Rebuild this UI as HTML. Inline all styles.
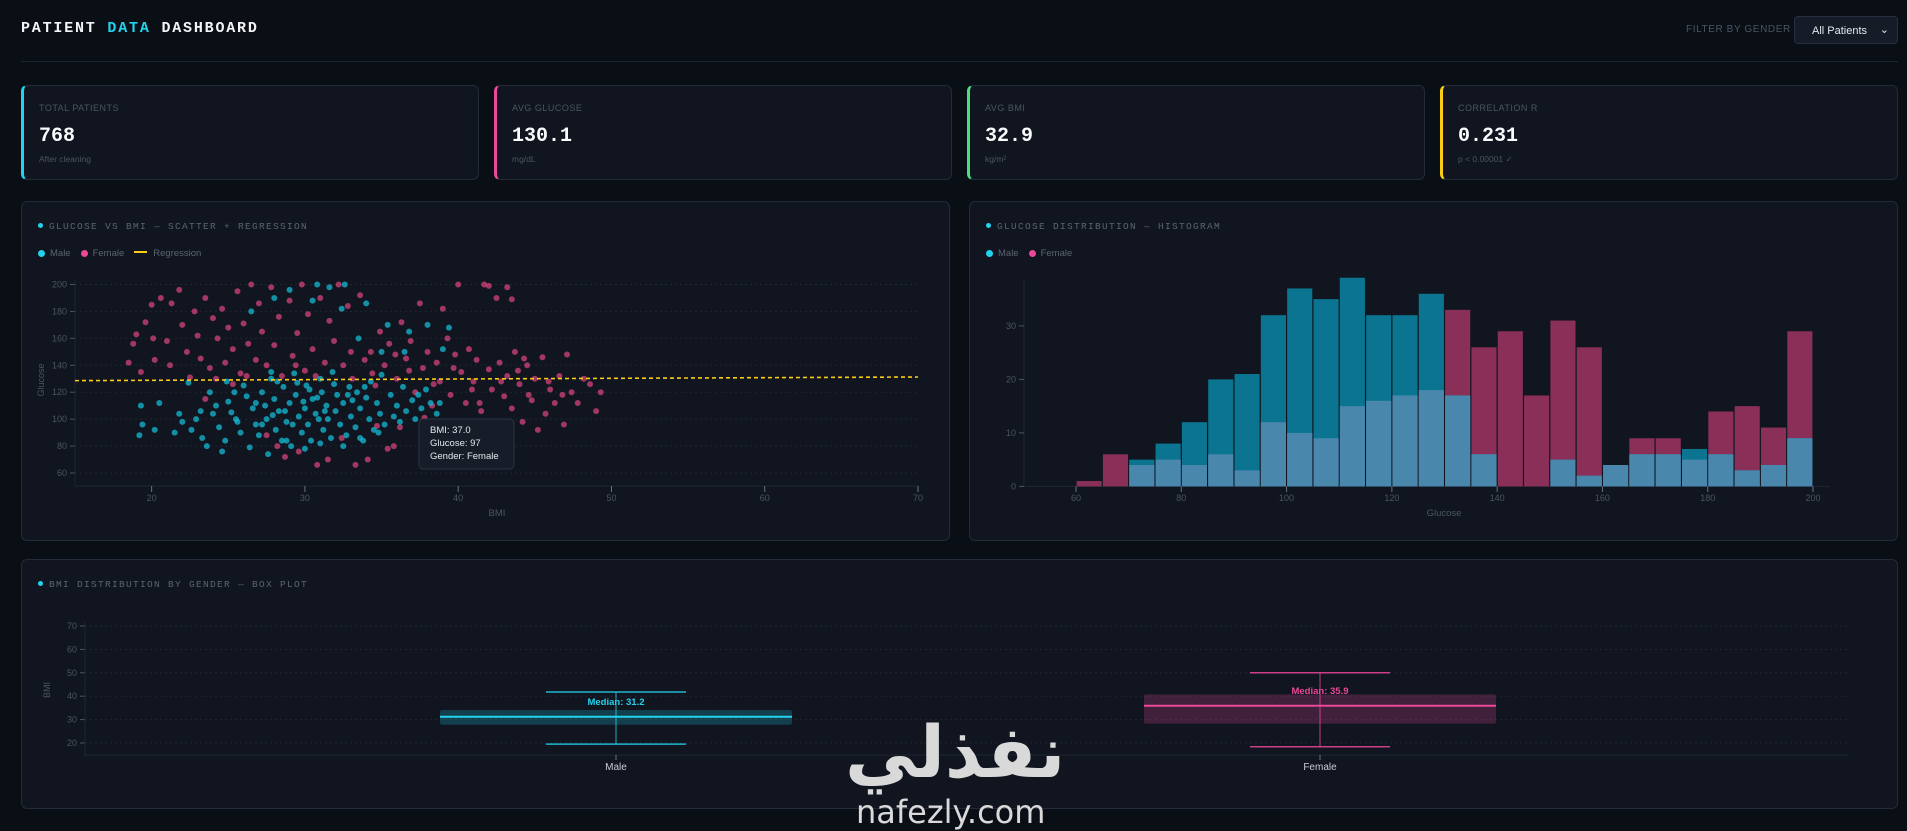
<!DOCTYPE html>
<html><head><meta charset="utf-8">
<style>
*{box-sizing:border-box;margin:0;padding:0}
body{width:1907px;height:829px;background:#0a0e15;font-family:"Liberation Sans",sans-serif;color:#e5e7eb;position:relative;overflow:hidden}
.abs{position:absolute}
.title{left:21px;top:20px;font-family:"Liberation Mono",monospace;font-weight:bold;font-size:15px;letter-spacing:1.8px;color:#f3f4f6}
.title span{color:#22d3ee}
.hline{left:21px;top:61px;width:1877px;height:1px;background:#1e2532}
.filter-label{left:1686px;top:24px;font-size:10px;letter-spacing:.6px;color:#4b5563}
.select{left:1794px;top:16px;width:104px;height:28px;background:#151c28;border:1px solid #263042;border-radius:4px;font-size:11px;color:#e5e7eb;padding:8px 0 0 17px}
.select i{position:absolute;right:8px;top:6px;font-style:normal;font-size:11px}
.card{top:85px;width:458px;height:95px;background:#10151f;border:1px solid #232b38;border-radius:6px;border-left-width:3px}
.card .lbl{position:absolute;left:15px;top:17px;font-size:9px;letter-spacing:.5px;color:#4b5563}
.card .val{position:absolute;left:15px;top:39px;font-family:"Liberation Mono",monospace;font-weight:bold;font-size:20px;color:#f9fafb}
.card .sub{position:absolute;left:15px;top:68px;font-size:8.5px;color:#4b5563}
.panel{background:#10151f;border:1px solid #232b38;border-radius:6px}
.ptitle{font-family:"Liberation Mono",monospace;font-size:9.5px;letter-spacing:1.3px;color:#5b6472}
.ptitle b{display:inline-block;width:5px;height:5px;border-radius:50%;background:#22d3ee;margin-right:6px;vertical-align:1px}
.legend{font-size:9.5px;color:#5b6472}
.legend span{margin-right:10px}
.legend b{display:inline-block;width:7px;height:7px;border-radius:50%;margin-right:5px;vertical-align:-1px}
.legend em{display:inline-block;width:13px;height:2px;background:#facc15;margin-right:6px;vertical-align:3px}
svg text{font-family:"Liberation Sans",sans-serif}
.wm{left:845px;top:716px;font-family:"DejaVu Sans",sans-serif;font-weight:bold;font-size:72px;color:#d9d9d9;line-height:1}
.wm2{left:856px;top:796px;font-family:"DejaVu Sans",sans-serif;font-size:32px;color:#d9d9d9;line-height:1}
</style></head><body>
<div class="abs title">PATIENT <span>DATA</span> DASHBOARD</div>
<div class="abs filter-label">FILTER BY GENDER</div>
<div class="abs select">All Patients<i>&#8964;</i></div>
<div class="abs hline"></div>

<div class="abs card" style="left:21px;border-left-color:#22d3ee"><div class="lbl">TOTAL PATIENTS</div><div class="val">768</div><div class="sub">After cleaning</div></div>
<div class="abs card" style="left:494px;border-left-color:#ec4899"><div class="lbl">AVG GLUCOSE</div><div class="val">130.1</div><div class="sub">mg/dL</div></div>
<div class="abs card" style="left:967px;border-left-color:#4ade80"><div class="lbl">AVG BMI</div><div class="val">32.9</div><div class="sub">kg/m²</div></div>
<div class="abs card" style="left:1440px;border-left-color:#facc15"><div class="lbl">CORRELATION R</div><div class="val">0.231</div><div class="sub">p &lt; 0.00001 ✓</div></div>

<div class="abs panel" style="left:21px;top:201px;width:929px;height:340px"></div>
<div class="abs panel" style="left:969px;top:201px;width:929px;height:340px"></div>
<div class="abs panel" style="left:21px;top:559px;width:1877px;height:250px"></div>

<div class="abs ptitle" style="left:38px;top:221px"><b></b>GLUCOSE VS BMI — SCATTER + REGRESSION</div>
<div class="abs legend" style="left:38px;top:248px"><span><b style="background:#22d3ee"></b>Male</span><span><b style="background:#ec4899"></b>Female</span><span><em></em>Regression</span></div>
<div class="abs ptitle" style="left:986px;top:221px"><b></b>GLUCOSE DISTRIBUTION — HISTOGRAM</div>
<div class="abs legend" style="left:986px;top:248px"><span><b style="background:#22d3ee"></b>Male</span><span><b style="background:#ec4899"></b>Female</span></div>
<div class="abs ptitle" style="left:38px;top:579px"><b></b>BMI DISTRIBUTION BY GENDER — BOX PLOT</div>

<svg id="charts" class="abs" style="left:0;top:0" width="1907" height="829"></svg>

<div class="abs wm">نفذلي</div>
<div class="abs wm2">nafezly.com</div>

<script>
// ---- Scatter data ----
const scatterXTicks = [20,30,40,50,60,70];
const scatterYTicks = [60,80,100,120,140,160,180,200];
const regressionStart = [15,128.6];
const regressionEnd = [70,131.3];
const malePoints = [[19.2,88],[19.4,96],[19.3,110],[20.5,112],[20.2,92],[21.5,90],[21.8,104],[22,98],[22.6,92],[22.4,127],[22.9,100],[23.3,86],[23.6,80],[23.8,120],[24,104],[24.2,110],[24.4,94],[24.6,76],[24.8,84],[25,113],[25.2,105],[25.4,120],[25.6,98],[25.8,90],[26,125],[26.2,117],[26.4,79],[26.6,108],[26.8,96],[27,88],[27.2,120],[27.4,110],[27.5,100],[27.6,74],[27.8,130],[28,115],[28.1,92],[28.3,106],[28.5,84],[28.6,124],[28.8,98],[29,112],[29.1,80],[29.3,134],[29.4,118],[29.6,102],[29.8,90],[30,108],[30.1,125],[30.2,96],[30.4,84],[30.5,115],[30.7,104],[30.8,200],[31,130],[31.1,120],[31.2,92],[31.4,110],[31.5,100],[31.7,86],[31.9,126],[32,106],[32.1,118],[32.3,96],[32.4,182],[32.5,112],[32.7,88],[32.9,124],[33,102],[33.1,114],[33.3,94],[33.4,120],[33.6,108],[33.8,84],[34,116],[34.2,100],[34.3,128],[34.5,92],[34.7,112],[34.9,104],[35,133],[35.2,96],[35.4,170],[35.6,118],[35.8,102],[36,110],[36.2,98],[36.4,124],[36.6,106],[36.8,165],[37,114],[37.2,100],[37.4,118],[37.6,108],[38,170],[38.2,112],[38.6,104],[39,152],[39.4,168],[28,190],[29,196],[30.5,188],[31.6,198],[32.6,200],[33.5,160],[34,186],[35,150],[36.5,150],[26.5,180],[27.8,135],[28.2,128],[29.5,127],[30.8,116],[31.8,135],[25.5,100],[26.8,112],[27.2,96],[28.8,84],[30,78],[31,82],[32.5,80],[33.6,86],[34.8,90],[28.7,106],[29.9,113],[30.3,122],[31.3,106],[32.8,118],[33.9,124],[27.9,103],[29.2,96],[30.9,100],[24.9,128],[23.2,106],[37.9,122],[38.8,112]];
const femalePoints = [[18.5,142],[18.8,156],[19,163],[19.3,135],[19.6,172],[20,185],[20.2,144],[20.6,190],[21,158],[21.3,186],[21.8,196],[22,170],[22.3,150],[22.5,131],[22.8,180],[23,162],[23.2,145],[23.5,190],[23.8,138],[24,175],[24.3,160],[24.6,182],[24.8,142],[25,168],[25.3,152],[25.6,195],[25.8,134],[26,171],[26.3,156],[26.5,200],[26.8,144],[27,186],[27.2,165],[27.5,140],[27.8,198],[28,155],[28.3,176],[28.5,132],[28.7,72],[29,188],[29.2,147],[29.5,164],[29.8,200],[30,136],[30.2,178],[30.5,152],[30.8,66],[31,190],[31.3,142],[31.6,173],[31.9,158],[32.2,200],[32.5,140],[32.8,184],[33,150],[33.3,66],[33.6,192],[33.9,144],[34.1,70],[34.3,150],[34.6,125],[34.9,165],[35.2,140],[35.5,156],[35.8,80],[36,130],[36.3,172],[36.6,145],[36.9,158],[37.2,120],[37.5,186],[37.7,138],[38,150],[38.3,110],[38.6,142],[38.8,128],[39,182],[39.3,160],[39.5,118],[39.8,148],[40,200],[40.2,135],[40.5,112],[40.7,152],[41,128],[41.2,144],[41.5,106],[41.7,200],[42,137],[42.2,122],[42.5,190],[42.7,142],[43,117],[43.2,132],[43.5,108],[43.7,150],[44,126],[44.2,98],[44.5,140],[44.8,114],[45,130],[45.2,92],[45.5,146],[45.7,104],[46,122],[46.3,112],[46.6,132],[46.9,96],[47.1,148],[47.4,120],[47.8,112],[48.2,130],[48.6,126],[49,106],[49.3,120],[43.2,198],[43.5,189],[42,199],[27.5,88],[28.2,80],[29.6,76],[31.5,70],[32.4,86],[35.4,78],[34.7,95],[36.2,94],[37.8,101],[23.5,115],[24.2,130],[25.3,126],[26.2,132],[38.4,126],[39.7,138],[40.9,122],[41.4,112],[44.6,118],[45.9,128],[46.8,118],[42.8,128],[43.9,136],[44.3,145],[36.8,136],[35.9,148],[34.4,134],[33.1,130],[30.7,132],[29.4,140],[21.2,140],[20.1,160]];
// ---- Histogram data ----
const binStarts = [60,65,70,75,80,85,90,95,100,105,110,115,120,125,130,135,140,145,150,155,160,165,170,175,180,185,190,195];
const maleCounts = [0,0,5,8,12,20,21,32,37,35,39,32,32,36,17,6,0,0,5,2,4,6,6,7,6,3,4,9];
const femaleCounts = [1,6,4,5,4,6,3,12,10,9,15,16,17,18,33,26,29,17,31,26,4,9,9,5,14,15,11,29];
const histYTicks = [0,10,20,30];
const histXTicks = [60,80,100,120,140,160,180,200];
// ---- Box plot data ----
const boxGroups = ["Male","Female"];
const boxMin = [19.5,18.4];
const boxQ1 = [27.8,28.3];
const boxMedian = [31.2,35.9];
const boxQ3 = [34.1,40.8];
const boxMax = [41.8,50.0];
const boxYTicks = [20,30,40,50,60,70];

const NS="http://www.w3.org/2000/svg";
const svg=document.getElementById('charts');
function mk(tag,attrs,parent){const e=document.createElementNS(NS,tag);for(const k in attrs)e.setAttribute(k,attrs[k]);(parent||svg).appendChild(e);return e;}
function txt(s,attrs,parent){const e=mk('text',attrs,parent);e.textContent=s;return e;}

// Scatter
const sx=v=>75+(v-15)*(918-75)/55;
const sy=v=>473-(v-60)*(473-284.5)/140;
const gS=mk('g',{});


scatterYTicks.forEach(t=>{
  mk('line',{x1:75,x2:918,y1:sy(t),y2:sy(t),stroke:'#1f2733','stroke-dasharray':'2,3'},gS);
  mk('line',{x1:70,x2:75,y1:sy(t),y2:sy(t),stroke:'#4b5563'},gS);
  const l=txt(t,{x:67,y:sy(t)+3,'text-anchor':'end','font-size':9,fill:'#4b5563'},gS);
  
  
});
mk('line',{x1:75,x2:75,y1:280,y2:486,stroke:'#1f2733'},gS);
mk('line',{x1:75,x2:918,y1:486,y2:486,stroke:'#1f2733'},gS);
scatterXTicks.forEach(t=>{
  mk('line',{x1:sx(t),x2:sx(t),y1:486,y2:492,stroke:'#6b7280'},gS);
  const l=txt(t,{x:sx(t),y:501,'text-anchor':'middle','font-size':9,fill:'#4b5563'},gS);
  
  
});
const xl=txt('BMI',{x:497,y:516,'text-anchor':'middle','font-size':9.5,fill:'#4b5563'},gS);


const yl=txt('Glucose',{x:0,y:0,'text-anchor':'middle','font-size':9,fill:'#4b5563',transform:'translate(44,380) rotate(-90)'},gS);


femalePoints.forEach(p=>{
  const c=mk('circle',{cx:sx(p[0]),cy:sy(p[1]),r:3,fill:'#e0467f','fill-opacity':0.7},gS);
  
  
});
malePoints.forEach(p=>{
  const c=mk('circle',{cx:sx(p[0]),cy:sy(p[1]),r:3,fill:'#14b8d4','fill-opacity':0.75},gS);
  
  
});
const reg=mk('line',{x1:sx(regressionStart[0]),y1:sy(regressionStart[1]),x2:sx(regressionEnd[0]),y2:sy(regressionEnd[1]),stroke:'#facc15','stroke-width':1.6,'stroke-dasharray':'4,3'},gS);


const tip=mk('g',{},gS);


mk('rect',{x:419,y:419,width:95,height:50,rx:4,fill:'#161d29',stroke:'#2a3444'},tip);
txt('BMI: 37.0',{x:430,y:433,'font-size':9.5,fill:'#e5e7eb'},tip);
txt('Glucose: 97',{x:430,y:446,'font-size':9.5,fill:'#e5e7eb'},tip);
txt('Gender: Female',{x:430,y:459,'font-size':9.5,fill:'#e5e7eb'},tip);

// Histogram
const hx=v=>1076+(v-60)*(1813-1076)/140;
const hy=v=>486.4-v*5.35;
const gH=mk('g',{});


mk('line',{x1:1024,x2:1024,y1:280,y2:486.4,stroke:'#1f2733'},gH);
mk('line',{x1:1024,x2:1830,y1:486.4,y2:486.4,stroke:'#1f2733'},gH);
histYTicks.forEach(t=>{
  mk('line',{x1:1019,x2:1024,y1:hy(t),y2:hy(t),stroke:'#4b5563'},gH);
  const l=txt(t,{x:1016,y:hy(t)+3,'text-anchor':'end','font-size':9,fill:'#4b5563'},gH);
  
  
});
histXTicks.forEach(t=>{
  mk('line',{x1:hx(t),x2:hx(t),y1:486.4,y2:492,stroke:'#6b7280'},gH);
  const l=txt(t,{x:hx(t),y:501,'text-anchor':'middle','font-size':9,fill:'#4b5563'},gH);
  
  
});
const hxl=txt('Glucose',{x:1444,y:516,'text-anchor':'middle','font-size':9.5,fill:'#4b5563'},gH);


binStarts.forEach((b,i)=>{
  const x=hx(b)+0.6,w=hx(b+5)-hx(b)-1.2;
  const m=maleCounts[i],f=femaleCounts[i],lo=Math.min(m,f);
  if(f>0){const r=mk('rect',{x:x,y:hy(f),width:w,height:hy(0)-hy(f),fill:'#8a2f58'},gH);
    
    }
  if(m>0){const r=mk('rect',{x:x,y:hy(m),width:w,height:hy(0)-hy(m),fill:'#0b7591'},gH);
    
    }
  if(lo>0){const r=mk('rect',{x:x,y:hy(lo),width:w,height:hy(0)-hy(lo),fill:'#4a87ad'},gH);
    
    }
});

// Box plot
const by=v=>743-(v-20)*(743-626)/50;
const bx=i=>616+i*704;
const gB=mk('g',{});


boxYTicks.forEach(t=>{
  mk('line',{x1:85,x2:1848,y1:by(t),y2:by(t),stroke:'#1f2733','stroke-dasharray':'2,3'},gB);
  mk('line',{x1:80,x2:85,y1:by(t),y2:by(t),stroke:'#4b5563'},gB);
  const l=txt(t,{x:77,y:by(t)+3,'text-anchor':'end','font-size':9,fill:'#4b5563'},gB);
  
  
});
mk('line',{x1:85,x2:85,y1:622,y2:757,stroke:'#1f2733'},gB);
mk('line',{x1:85,x2:1848,y1:755,y2:755,stroke:'#1f2733'},gB);
const byl=txt('BMI',{x:0,y:0,'text-anchor':'middle','font-size':9,fill:'#4b5563',transform:'translate(50,690) rotate(-90)'},gB);


const boxCol=['#22d3ee','#ec4899'];
const boxFill=['rgba(34,211,238,0.22)','rgba(236,72,153,0.22)'];
boxGroups.forEach((g,i)=>{
  const c=bx(i);
  const grp=mk('g',{},gB);
  
  
  mk('line',{x1:c,x2:c,y1:by(boxMax[i]),y2:by(boxMin[i]),stroke:boxCol[i],'stroke-width':1,'stroke-opacity':0.8},grp);
  mk('line',{x1:c-70,x2:c+70,y1:by(boxMax[i]),y2:by(boxMax[i]),stroke:boxCol[i],'stroke-width':1.5,'stroke-opacity':0.85},grp);
  mk('line',{x1:c-70,x2:c+70,y1:by(boxMin[i]),y2:by(boxMin[i]),stroke:boxCol[i],'stroke-width':1.5,'stroke-opacity':0.85},grp);
  mk('rect',{x:c-176,y:by(boxQ3[i]),width:352,height:by(boxQ1[i])-by(boxQ3[i]),rx:2,fill:boxFill[i]},grp);
  mk('line',{x1:c-176,x2:c+176,y1:by(boxMedian[i]),y2:by(boxMedian[i]),stroke:boxCol[i],'stroke-width':2},grp);
  txt('Median: '+boxMedian[i].toFixed(1),{x:c,y:by(boxMedian[i])-12,'text-anchor':'middle','font-size':9.5,'font-weight':'bold',fill:boxCol[i]},grp);
  mk('line',{x1:c,x2:c,y1:755,y2:760,stroke:'#6b7280'},gB);
  const l=txt(g,{x:c,y:770,'text-anchor':'middle','font-size':10,fill:'#c7ccd4'},gB);
  
  
});
</script>
</body></html>
